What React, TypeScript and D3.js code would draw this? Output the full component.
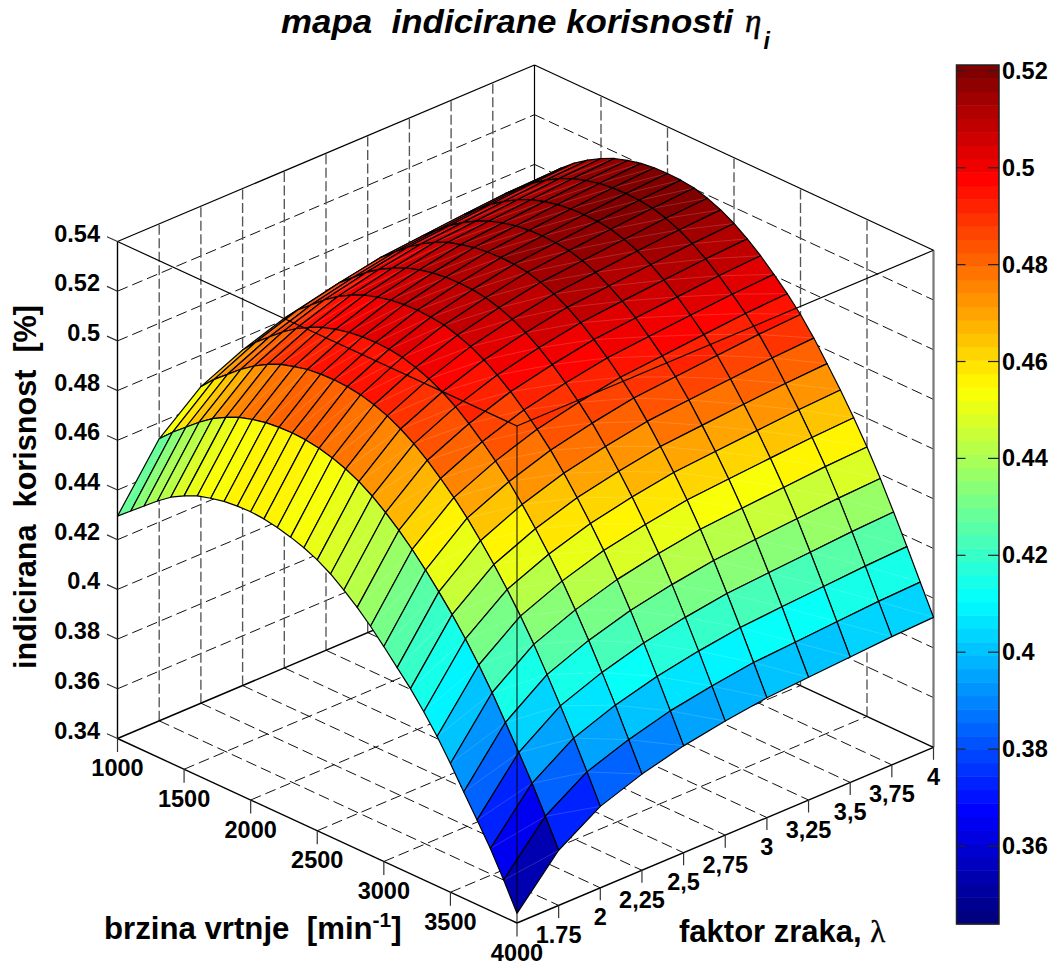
import React from "react";
import * as d3 from "d3";

const rpmValues = [1000,1100,1200,1300,1400,1500,1600,1700,1800,1900,2000,2100,2200,2300,2400,2500,2600,2700,2800,2900,3000,3100,3200,3300,3400,3500,3600,3700,3800,3900,4000];
const lambdaValues = [1.5,1.75,2,2.25,2.5,2.75,3,3.25,3.5,3.75,4];

const etaL150 = [.4295,.4340,.4385,.4430,.4470,.4500,.4525,.4540,.4552,.4558,.4560,.4556,.4546,.4532,.4514,.4490,.4458,.4418,.4373,.4322,.4265,.4205,.4145,.4077,.4002,.3918,.3828,.3740,.3650,.3548,.3439];
const etaL175 = [.4535,.4586,.4631,.4676,.4715,.4745,.4770,.4786,.4798,.4804,.4806,.4803,.4794,.4780,.4760,.4734,.4700,.4659,.4612,.4560,.4502,.4439,.4372,.4299,.4219,.4132,.4037,.3941,.3842,.3734,.3622];
const etaL200 = [.4674,.4728,.4773,.4818,.4856,.4887,.4912,.4928,.4941,.4947,.4949,.4946,.4938,.4923,.4903,.4875,.4840,.4798,.4750,.4698,.4640,.4574,.4503,.4427,.4345,.4256,.4159,.4058,.3953,.3842,.3728];
const etaL225 = [.4750,.4807,.4852,.4897,.4935,.4965,.4990,.5007,.5019,.5026,.5028,.5026,.5018,.5002,.4981,.4953,.4918,.4875,.4827,.4774,.4716,.4649,.4576,.4498,.4415,.4324,.4226,.4122,.4015,.3901,.3787];
const etaL250 = [.4807,.4865,.4910,.4955,.4993,.5024,.5049,.5065,.5078,.5085,.5087,.5084,.5077,.5061,.5040,.5011,.4975,.4933,.4884,.4831,.4772,.4704,.4630,.4551,.4467,.4375,.4276,.4170,.4060,.3946,.3830];
const etaL275 = [.4845,.4904,.4949,.4994,.5032,.5062,.5087,.5104,.5117,.5124,.5126,.5124,.5116,.5101,.5079,.5050,.5014,.4971,.4922,.4869,.4810,.4741,.4666,.4587,.4501,.4409,.4309,.4202,.4091,.3975,.3859];
const etaL300 = [.4876,.4935,.4980,.5025,.5063,.5094,.5119,.5135,.5148,.5155,.5157,.5155,.5148,.5132,.5110,.5081,.5044,.5001,.4952,.4899,.4840,.4771,.4695,.4615,.4529,.4436,.4335,.4227,.4115,.3999,.3882];
const etaL325 = [.4891,.4951,.4996,.5041,.5078,.5109,.5134,.5151,.5164,.5171,.5173,.5171,.5164,.5148,.5126,.5096,.5060,.5017,.4967,.4914,.4855,.4786,.4709,.4629,.4543,.4450,.4349,.4240,.4128,.4010,.3894];
const etaL350 = [.4906,.4966,.5011,.5056,.5093,.5124,.5149,.5166,.5179,.5186,.5188,.5186,.5179,.5163,.5141,.5111,.5074,.5031,.4982,.4929,.4870,.4800,.4723,.4642,.4556,.4463,.4362,.4252,.4139,.4022,.3905];
const etaL375 = [.4919,.4980,.5025,.5070,.5107,.5138,.5163,.5180,.5193,.5200,.5202,.5200,.5193,.5177,.5155,.5125,.5088,.5045,.4996,.4943,.4884,.4814,.4736,.4655,.4568,.4476,.4374,.4264,.4150,.4033,.3916];
const etaL400 = [.4929,.4985,.5035,.5080,.5117,.5148,.5173,.5190,.5203,.5210,.5212,.5210,.5203,.5187,.5165,.5135,.5098,.5055,.5005,.4952,.4893,.4823,.4745,.4664,.4577,.4484,.4382,.4272,.4158,.4040,.3923];
const etaRows = [etaL150,etaL175,etaL200,etaL225,etaL250,etaL275,etaL300,etaL325,etaL350,etaL375,etaL400];

const rpmTicks = [1000,1500,2000,2500,3000,3500,4000];
const lambdaTicks = [1.75,2,2.25,2.5,2.75,3,3.25,3.5,3.75,4];
const lambdaLabels = ["1.75","2","2,25","2,5","2,75","3","3,25","3,5","3,75","4"];
const zTicks = [.34,.36,.38,.4,.42,.44,.46,.48,.5,.52,.54];
const zLabels = ["0.34","0.36","0.38","0.4","0.42","0.44","0.46","0.48","0.5","0.52","0.54"];
const cbTicks = [.36,.38,.4,.42,.44,.46,.48,.5,.52];
const cbLabels = ["0.36","0.38","0.4","0.42","0.44","0.46","0.48","0.5","0.52"];
const cbMin = 0.3439, cbMax = 0.5212;

const FONT = "'Liberation Sans', Arial, sans-serif";
const SERIF = "'Liberation Serif', 'DejaVu Serif', serif";

// floor corners on screen
const LB = [117.5, 738.5], FB = [517, 923], RB = [933.5, 747.3], BB = [534.5, 562];
const wallH = 497;

const u = d3.scaleLinear().domain([1000, 4000]).range([0, 1]);
const v = d3.scaleLinear().domain([1.5, 4]).range([0, 1]);
const h = d3.scaleLinear().domain([0.34, 0.54]).range([0, wallH]);

function P(r: number, l: number, z: number): [number, number] {
  const a = u(r), b = v(l);
  const x = (1-a)*(1-b)*LB[0] + a*(1-b)*FB[0] + a*b*RB[0] + (1-a)*b*BB[0];
  const y = (1-a)*(1-b)*LB[1] + a*(1-b)*FB[1] + a*b*RB[1] + (1-a)*b*BB[1];
  return [x, y - h(z)];
}

const jetScale = d3.scaleLinear<number>()
  .domain([0, .125, .375, .625, .875, 1]);
const jr = jetScale.copy().range([0, 0, 0, 1, 1, .5]);
const jg = jetScale.copy().range([0, 0, 1, 1, 0, 0]);
const jb = jetScale.copy().range([.5, 1, 1, 0, 0, 0]);
function jet(i: number) {
  const t = i / 63;
  return d3.rgb(jr(t) * 255, jg(t) * 255, jb(t) * 255).formatHex();
}
const level = d3.scaleQuantize<number>().domain([cbMin, cbMax]).range(d3.range(64));

function seg(a: [number, number], b: [number, number], key: string, extra: any) {
  return <line key={key} x1={a[0]} y1={a[1]} x2={b[0]} y2={b[1]} {...extra} />;
}

export default function App() {
  const dash = { stroke: "#111", strokeWidth: 1, strokeDasharray: "11 5", fill: "none" };
  const vdash = { stroke: "#555", strokeWidth: 1.35, strokeDasharray: "10 3.5", fill: "none" };
  const solid = { stroke: "#000", strokeWidth: 1.2 };
  const heavy = { stroke: "#000", strokeWidth: 1.4 };
  const zMin = .34, zMax = .54;
  const grid: any[] = [];
  zTicks.slice(1, -1).forEach((z, i) => {
    grid.push(seg(P(1000, 1.5, z), P(1000, 4, z), "wl" + i, dash));
    grid.push(seg(P(1000, 4, z), P(4000, 4, z), "wr" + i, dash));
  });
  lambdaTicks.slice(0, -1).forEach((l, i) => {
    grid.push(seg(P(1000, l, zMin), P(1000, l, zMax), "vl" + i, vdash));
    grid.push(seg(P(1000, l, zMin), P(4000, l, zMin), "fl" + i, dash));
  });
  rpmTicks.slice(1, -1).forEach((r, i) => {
    grid.push(seg(P(r, 4, zMin), P(r, 4, zMax), "vr" + i, vdash));
    grid.push(seg(P(r, 1.5, zMin), P(r, 4, zMin), "fr" + i, dash));
  });

  // painter's order: far rpm/lambda corner first
  const cells: any[] = [];
  for (let i = 0; i < rpmValues.length - 1; i++) {
    for (let j = lambdaValues.length - 2; j >= 0; j--) {
      const pts = [
        P(rpmValues[i], lambdaValues[j], etaRows[j][i]),
        P(rpmValues[i + 1], lambdaValues[j], etaRows[j][i + 1]),
        P(rpmValues[i + 1], lambdaValues[j + 1], etaRows[j + 1][i + 1]),
        P(rpmValues[i], lambdaValues[j + 1], etaRows[j + 1][i]),
      ];
      const pointList = pts.map(p => p.join(",")).join(" ");
      cells.push(
        <g key={i + "-" + j}>
          <polygon points={pointList} fill={jet(level(etaRows[j][i]))} stroke="none" />
          <line x1={pts[0][0]} y1={pts[0][1]} x2={pts[2][0]} y2={pts[2][1]}
            stroke="#fff" strokeOpacity={0.22} strokeWidth={0.7} />
          <polygon points={pointList} fill="none" stroke="#000" strokeWidth={1.2} strokeLinejoin="round" />
        </g>
      );
    }
  }

  const cbY = d3.scaleLinear().domain([cbMin, cbMax]).range([924, 65]);
  const cbX0 = 956.5, cbX1 = 999;
  const bands = d3.range(64).map(i => {
    const y1 = 924 - (i * 859) / 64, y0 = 924 - ((i + 1) * 859) / 64;
    return <rect key={i} x={cbX0} y={y0} width={cbX1 - cbX0} height={y1 - y0 + 0.5} fill={jet(i)} />;
  });

  const lab = { fontFamily: FONT, fontWeight: 700, fontSize: 23.5, fill: "#000" };
  const tickCol = { stroke: "#333", strokeWidth: 1.2 };

  return (
    <svg width={1051} height={964} viewBox="0 0 1051 964"
      style={{ position: "absolute", left: 0, top: 0, background: "#fff", display: "block" }}>
      {grid}
      {seg(P(1000, 1.5, zMin), P(1000, 1.5, zMax), "e1", heavy)}
      {seg(P(1000, 1.5, zMax), P(1000, 4, zMax), "e2", solid)}
      {seg(P(1000, 4, zMax), P(4000, 4, zMax), "e3", solid)}
      {seg(P(4000, 4, zMax), P(4000, 4, zMin), "e4", { stroke: "#777", strokeWidth: 2.2 })}
      {seg(P(1000, 4, zMin), P(1000, 4, zMax), "e5", solid)}
      {seg(P(1000, 1.5, zMin), P(1000, 4, zMin), "e6", heavy)}
      {seg(P(1000, 4, zMin), P(4000, 4, zMin), "e7", heavy)}
      {seg(P(1000, 1.5, zMin), P(4000, 1.5, zMin), "e8", heavy)}
      {seg(P(4000, 1.5, zMin), P(4000, 4, zMin), "e9", heavy)}

      {cells}

      {seg(P(1000, 1.5, zMax), P(4000, 1.5, zMax), "f1", solid)}
      {seg(P(4000, 1.5, zMax), P(4000, 4, zMax), "f2", solid)}
      {seg(P(4000, 1.5, zMax), P(4000, 1.5, zMin), "f3", { stroke: "#000", strokeOpacity: 0.6, strokeWidth: 1.6 })}

      {zTicks.map((z, i) => {
        const [x, y] = P(1000, 1.5, z);
        return (
          <g key={"zt" + i}>
            <line x1={x} y1={y} x2={x - 10.5} y2={y - 4.8} {...tickCol} />
            <text x={100} y={y} textAnchor="end" {...lab}>{zLabels[i]}</text>
          </g>
        );
      })}
      {rpmTicks.map((r, i) => {
        const [x, y] = P(r, 1.5, zMin);
        return (
          <g key={"rt" + i}>
            <line x1={x} y1={y} x2={x} y2={y + 13.5} {...tickCol} />
            <text x={x} y={y + 37.5} textAnchor="middle" {...lab}>{r}</text>
          </g>
        );
      })}
      {lambdaTicks.map((l, i) => {
        const [x, y] = P(4000, l, zMin);
        return (
          <g key={"lt" + i}>
            <line x1={x} y1={y} x2={x} y2={y + 12.5} {...tickCol} />
            <text x={x} y={y + 37.5} textAnchor="middle" {...lab}>{lambdaLabels[i]}</text>
          </g>
        );
      })}

      {/* colour bar */}
      {bands}
      <rect x={cbX0} y={65} width={cbX1 - cbX0} height={859} fill="none" stroke="#222" strokeWidth={1.5} />
      {cbTicks.map((t, i) => {
        const y = cbY(t);
        return (
          <g key={"cb" + i}>
            <line x1={cbX0} y1={y} x2={cbX0 + 9} y2={y} stroke="#222" strokeWidth={1.2} />
            <line x1={cbX1} y1={y} x2={cbX1 - 11} y2={y} stroke="#222" strokeWidth={1.2} />
            <text x={1002} y={y + 8} {...lab}>{cbLabels[i]}</text>
          </g>
        );
      })}

      {/* titles */}
      <text x={281} y={32.5} fontFamily={FONT} fontWeight={700} fontStyle="italic" fontSize={33.5}
        textLength={452} lengthAdjust="spacingAndGlyphs" style={{ whiteSpace: "pre" }}>
        {"mapa  indicirane korisnosti"}
      </text>
      <text x={745} y={32} fontFamily={SERIF} fontStyle="italic" fontSize={33} stroke="#000" strokeWidth={0.5}>{"\u03B7"}</text>
      <text x={763.5} y={48.5} fontFamily={FONT} fontWeight={700} fontStyle="italic" fontSize={23}>i</text>

      <text transform="translate(36,669) rotate(-90)" fontFamily={FONT} fontWeight={700} fontSize={31}
        textLength={364} lengthAdjust="spacingAndGlyphs" style={{ whiteSpace: "pre" }}>
        {"indicirana  korisnost  [%]"}
      </text>

      <text x={104} y={939} fontFamily={FONT} fontWeight={700} fontSize={31.2} style={{ whiteSpace: "pre" }}>
        {"brzina vrtnje  [min"}
        <tspan dy={-12} fontSize={21}>-1</tspan>
        <tspan dy={12}>]</tspan>
      </text>
      <text x={679} y={942} fontFamily={FONT} fontWeight={700} fontSize={31} style={{ whiteSpace: "pre" }}>
        {"faktor zraka, "}
        <tspan fontFamily={SERIF} fontWeight={400} stroke="#000" strokeWidth={0.4}>{"\u03BB"}</tspan>
      </text>
    </svg>
  );
}
